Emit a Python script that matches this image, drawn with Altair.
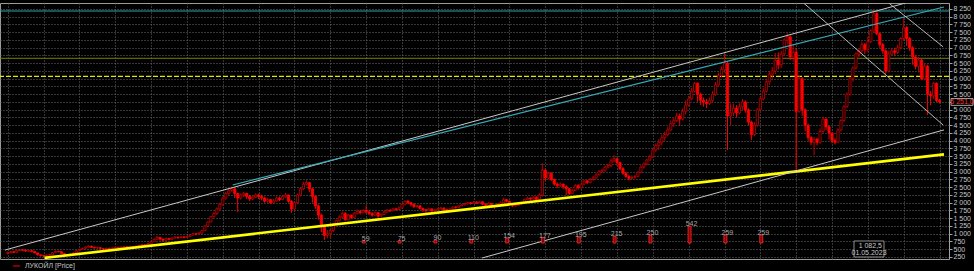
import altair as alt
import pandas as pd

# ---------------- data (monthly candles, month index 0 = Jan 2000) ----------------
first_open = 360
close = [
    390, 420, 400, 460, 480, 470, 440, 450, 430, 380, 320, 300,          # 2000
    280, 310, 330, 390, 430, 420, 360, 330, 310, 340, 380, 450,          # 2001
    490, 530, 570, 600, 560, 540, 550, 520, 510, 530, 520, 540,          # 2002
    560, 550, 570, 580, 560, 590, 570, 600, 620, 650, 630, 670,          # 2003
    740, 820, 880, 830, 790, 850, 820, 860, 890, 870, 900, 880,          # 2004
    910, 960, 1000, 990, 1020, 1100, 1250, 1380, 1550, 1650, 1800, 1950, # 2005
    2150, 2300, 2400, 2450, 2300, 2150, 2250, 2300, 2200, 2120, 2180, 2250,  # 2006
    2200, 2150, 2050, 2100, 2000, 2060, 2150, 2100, 2200, 2250, 2050, 1800,  # 2007
    2000, 2250, 2450, 2600, 2650, 2450, 2200, 1900, 1600, 1250, 950, 1000,   # 2008
    1100, 1300, 1420, 1540, 1650, 1450, 1600, 1520, 1650, 1720, 1680, 1750,  # 2009
    1700, 1650, 1600, 1680, 1570, 1620, 1700, 1760, 1740, 1800, 1780, 1830,  # 2010
    1950, 2050, 2000, 1950, 1880, 1900, 1820, 1780, 1760, 1800, 1740, 1770,  # 2011
    1800, 1830, 1780, 1720, 1800, 1860, 1850, 1900, 1930, 1960, 2000, 1980,  # 2012
    2020, 2000, 2030, 1950, 1920, 1980, 1900, 1880, 1950, 2000, 2100, 2050,  # 2013
    1950, 1900, 1920, 1960, 2000, 2100, 2150, 2120, 2180, 2100, 2250, 3050,  # 2014
    2800, 2950, 2750, 2600, 2550, 2600, 2520, 2450, 2300, 2400, 2550, 2480,  # 2015
    2600, 2700, 2650, 2750, 2800, 2900, 3000, 3050, 3150, 3200, 3350, 3420,  # 2016
    3300, 3100, 2950, 2850, 2780, 2820, 2850, 2980, 3150, 3250, 3380, 3480,  # 2017
    3700, 3850, 3950, 4100, 4200, 4350, 4550, 4650, 4800, 4700, 4950, 5150,  # 2018
    5350, 5600, 5850, 5500, 5300, 5250, 5200, 5300, 5500, 5800, 6100, 6300,  # 2019
    6500, 4800, 4900, 5050, 4900, 5100, 5250, 5000, 4600, 4200, 4500, 5000,  # 2020
    5350, 5600, 5900, 6150, 6250, 6600, 6450, 6800, 7250, 7350, 6700, 6850,  # 2021
    4950, 6000, 5000, 4500, 4100, 3950, 4050, 3950, 4300, 4700, 4450, 4250,  # 2022
    4000, 3950, 4350, 4650, 5100, 5500, 6000, 6350, 6800, 6900, 7100, 6950,  # 2023
    7200, 7550, 8100, 7450, 7100, 6900, 6250, 6800, 6900, 6850, 7000, 7300,  # 2024
    7650, 7300, 7000, 6700, 6400, 6600, 6000, 6400, 5500, 5450, 5850, 5300,  # 2025
    5251,                                                                     # 2026
]
high = [
    430, 450, 440, 490, 510, 500, 480, 470, 460, 440, 390, 330,
    310, 330, 350, 410, 460, 450, 430, 370, 340, 360, 400, 470,
    500, 550, 590, 630, 610, 580, 570, 560, 540, 550, 550, 560,
    580, 580, 590, 600, 600, 610, 600, 620, 650, 680, 670, 700,
    760, 860, 935, 900, 840, 870, 860, 880, 920, 910, 930, 910,
    930, 980, 1030, 1020, 1060, 1120, 1280, 1400, 1580, 1700, 1850, 2000,
    2200, 2350, 2450, 2520, 2480, 2320, 2300, 2350, 2320, 2250, 2230, 2300,
    2300, 2260, 2200, 2150, 2120, 2120, 2200, 2200, 2250, 2320, 2260, 2080,
    2050, 2300, 2500, 2680, 2720, 2660, 2460, 2250, 1950, 1650, 1300, 1120,
    1150, 1350, 1460, 1600, 1720, 1700, 1640, 1620, 1700, 1780, 1760, 1800,
    1900, 1760, 1700, 1720, 1700, 1660, 1740, 1800, 1790, 1840, 1830, 1880,
    1980, 2080, 2080, 2030, 1980, 1930, 1920, 1840, 1800, 1840, 1820, 1800,
    1840, 1870, 1850, 1800, 1820, 1880, 1890, 1920, 1960, 1990, 2030, 2020,
    2060, 2050, 2060, 2040, 1980, 2010, 1990, 1930, 1980, 2040, 2150, 2120,
    2060, 1980, 1960, 2000, 2040, 2130, 2200, 2180, 2220, 2200, 2310, 3280,
    3100, 3000, 2980, 2780, 2650, 2660, 2620, 2560, 2480, 2450, 2600, 2600,
    2650, 2740, 2740, 2800, 2860, 2950, 3060, 3100, 3200, 3260, 3420, 3540,
    3450, 3320, 3150, 3000, 2900, 2880, 2900, 3020, 3200, 3300, 3420, 3550,
    3780, 3920, 4050, 4200, 4300, 4450, 4650, 4750, 4900, 4880, 5050, 5300,
    5450, 5700, 5900, 5880, 5550, 5400, 5350, 5400, 5600, 5900, 6200, 6400,
    6830, 6550, 5200, 5200, 5150, 5200, 5350, 5300, 5050, 4650, 4600, 5050,
    5450, 5700, 6000, 6250, 6380, 6830, 6850, 6900, 7300, 7480, 7400, 7100,
    7000, 6100, 6050, 5050, 4550, 4150, 4120, 4100, 4400, 4780, 4720, 4480,
    4100, 4080, 4400, 4700, 5150, 5560, 6050, 6400, 6850, 6980, 7200, 7150,
    7350, 7600, 8220, 8150, 7480, 7150, 6950, 6900, 7000, 7000, 7100, 7350,
    7960, 7700, 7350, 7050, 6750, 6700, 6650, 6500, 6450, 5600, 5900, 5880,
    5350,
]
low = [
    330, 370, 380, 390, 440, 440, 420, 420, 400, 370, 300, 260,
    250, 270, 300, 320, 380, 400, 350, 310, 290, 300, 330, 370,
    440, 480, 520, 560, 540, 520, 510, 490, 480, 500, 500, 510,
    520, 520, 540, 550, 540, 550, 550, 560, 590, 610, 600, 620,
    660, 730, 800, 780, 740, 780, 790, 810, 850, 840, 860, 850,
    870, 900, 950, 950, 980, 1000, 1090, 1230, 1360, 1520, 1600, 1760,
    1900, 2100, 2250, 2350, 2150, 1700, 2100, 2180, 2120, 2050, 2080, 2150,
    2120, 2080, 2000, 2000, 1950, 1980, 2030, 2050, 2080, 2150, 2000, 1680,
    1750, 1950, 2200, 2400, 2550, 2350, 2000, 1800, 1450, 1050, 800, 850,
    860, 1050, 1280, 1400, 1500, 1420, 1440, 1480, 1500, 1620, 1620, 1660,
    1650, 1600, 1550, 1580, 1500, 1540, 1610, 1680, 1700, 1720, 1740, 1760,
    1820, 1920, 1950, 1880, 1830, 1840, 1780, 1700, 1680, 1730, 1700, 1720,
    1750, 1780, 1700, 1680, 1700, 1780, 1810, 1840, 1880, 1910, 1950, 1940,
    1970, 1960, 1980, 1920, 1880, 1900, 1850, 1800, 1870, 1940, 1990, 2010,
    1900, 1860, 1870, 1900, 1950, 1990, 2080, 2060, 2100, 2050, 2080, 2200,
    2700, 2750, 2700, 2550, 2480, 2500, 2450, 2250, 2250, 2280, 2380, 2420,
    2450, 2580, 2600, 2630, 2700, 2780, 2880, 2960, 3000, 3100, 3150, 3300,
    3200, 3050, 2900, 2800, 2720, 2760, 2780, 2820, 2950, 3100, 3200, 3350,
    3450, 3640, 3700, 3850, 4000, 4150, 4300, 4450, 4600, 4500, 4650, 4850,
    5100, 5300, 5550, 5250, 5150, 5100, 5050, 5150, 5250, 5450, 5750, 6050,
    6200, 3700, 4500, 4800, 4750, 4850, 5000, 4900, 4500, 4020, 4150, 4450,
    4950, 5300, 5550, 5800, 6000, 6150, 6300, 6350, 6750, 7100, 6600, 6550,
    3060, 4900, 4800, 4300, 4000, 3850, 3540, 3850, 3900, 4250, 4350, 4050,
    3920, 3880, 3950, 4300, 4600, 5050, 5450, 5900, 6300, 6700, 6800, 6800,
    6850, 7150, 7500, 7400, 7000, 6800, 6150, 6200, 6750, 6750, 6800, 6950,
    7250, 7050, 6900, 6450, 6300, 6200, 5950, 5950, 4830, 5150, 5350, 5250,
    5200,
]

# dividends (rub per share) and month index where they are drawn
div_values = [59, 75, 90, 110, 154, 177, 195, 215, 250, 542, 259, 259]
div_month = [119.2, 131.2, 143.2, 155.2, 167.2, 179.2, 191.2, 203.2, 215.2, 228.3, 240.3, 252.3]
div_base = 700

# trend segments: (month1, price1) -> (month2, price2)
seg_names = ["support", "lower_channel", "upper_channel", "cyan_channel", "down_a", "down_b"]
seg_m1 = [12.3, 158.8, -0.93, 75.3, 266.5, 295.0]
seg_p1 = [220, 217, 475, 2572, 8443, 8443]
seg_m2 = [313.5, 313.5, 300.6, 313.5, 313.2, 313.2]
seg_p2 = [3560, 4350, 8443, 8315, 4508, 7030]

# horizontal levels
level_names = ["cyan_level", "olive_level", "yellow_level"]
level_values = [8185, 6660, 6078]

last_price = 5251
last_price_label = "5 251,0"
hidden_tick = 5250          # axis label covered by the last-price box
cursor_value = "1 082,5"
cursor_date = "01.05.2023"
legend_label = "ЛУКОЙЛ [Price]"

y_ticks = list(range(250, 8251, 250))
x_grid = list(range(0, 313, 12))

# ---------------- build tables ----------------
opens = [first_open] + close[:-1]
candles = pd.DataFrame({
    "m": list(range(len(close))),
    "open": opens,
    "close": close,
    "high": high,
    "low": low,
})
candles["up"] = candles["close"] >= candles["open"]

divs = pd.DataFrame({"m": div_month, "base": [div_base] * len(div_values),
                     "top": [div_base + v for v in div_values],
                     "label": [str(v) for v in div_values]})
segs = pd.DataFrame({"name": seg_names, "m": seg_m1, "p": seg_p1, "m2": seg_m2, "p2": seg_p2})
levels = pd.DataFrame({"name": level_names, "p": level_values})

# ---------------- scales / axes ----------------
GRID = "#6a6a6a"
xscale = alt.Scale(domain=[-0.93, 313.5], nice=False, zero=False)
yscale = alt.Scale(domain=[185, 8443.5], nice=False, zero=False)
xaxis = alt.Axis(values=x_grid, grid=True, gridColor=GRID, gridDash=[1, 2], gridWidth=1,
                 labels=False, ticks=False, domain=False, title=None)
yaxis = alt.Axis(orient="right", values=y_ticks, grid=True, gridColor=GRID, gridDash=[1, 2],
                 gridWidth=1,
                 labelExpr=f"datum.value == {hidden_tick} ? '' : replace(format(datum.value, ','), ',', ' ')",
                 labelColor="#c8c8c8", labelFont="Liberation Sans", labelFontSize=7,
                 labelPadding=1, labelOverlap=False, labelFlush=False,
                 ticks=True, tickColor="#a0a0a0", tickSize=3,
                 domain=True, domainColor="#a0a0a0", title=None)


def X(f):
    return alt.X(f, type="quantitative", scale=xscale, axis=xaxis)


def Y(f):
    return alt.Y(f, type="quantitative", scale=yscale, axis=yaxis)


layers = []

# horizontal levels
lvl_style = {"cyan_level": ("#2fa3ad", 1, None),
             "olive_level": ("#7d7d00", 1, None),
             "yellow_level": ("#e6e600", 1.2, [5, 2])}
for nm, (col, w, dash) in lvl_style.items():
    kw = dict(color=col, strokeWidth=w)
    if dash:
        kw["strokeDash"] = dash
    layers.append(alt.Chart(levels[levels.name == nm]).mark_rule(**kw).encode(y=Y("p")))

# candle wicks and bodies
base = alt.Chart(candles)
layers.append(base.mark_rule(strokeWidth=1).encode(
    x=X("m"), y=Y("low"), y2="high",
    color=alt.condition("datum.up", alt.value("#c00000"), alt.value("#ff0000"))))
layers.append(base.mark_bar(size=2.2, strokeWidth=0.8, orient="vertical").encode(
    x=X("m"), y=Y("open"), y2="close",
    fill=alt.condition("datum.up", alt.value("#000000"), alt.value("#ff0000")),
    stroke=alt.condition("datum.up", alt.value("#c80000"), alt.value("#ff0000"))))

# trend segments
seg_style = {"support": ("#ffff00", 2.6),
             "lower_channel": ("#c8c8c8", 1),
             "upper_channel": ("#c8c8c8", 1),
             "cyan_channel": ("#36aab8", 1.2),
             "down_a": ("#b8b8b8", 1),
             "down_b": ("#b8b8b8", 1)}
for nm, (col, w) in seg_style.items():
    layers.append(alt.Chart(segs[segs.name == nm]).mark_rule(color=col, strokeWidth=w, clip=True).encode(
        x=X("m"), y=Y("p"), x2="m2", y2="p2"))

# dividends
dchart = alt.Chart(divs)
layers.append(dchart.mark_bar(size=3, fill="#8a0000", stroke="#ff2a2a", strokeWidth=0.8,
                              orient="vertical").encode(x=X("m"), y=Y("base"), y2="top"))
layers.append(dchart.mark_text(fontSize=7, font="Liberation Sans", color="#a8a8a8",
                               baseline="bottom", dx=2, dy=1).encode(
    x=X("m"), y=Y("top"), text="label"))

# last price label box at right axis
lp = pd.DataFrame({"p": [last_price], "p_hi": [last_price + 110], "p_lo": [last_price - 110],
                   "t": [last_price_label]})
layers.append(alt.Chart(lp).mark_rect(fill="#000000", stroke="#a0a0a0", strokeWidth=1).encode(
    x=alt.value(951), x2=alt.value(973), y=Y("p_hi"), y2="p_lo"))
layers.append(alt.Chart(lp).mark_text(fontSize=7, font="Liberation Sans", color="#ff3030",
                                      align="center", baseline="middle").encode(
    x=alt.value(962), y=Y("p"), text="t"))

# cursor readout box
cb = pd.DataFrame({"t1": [cursor_value], "t2": [cursor_date]})
layers.append(alt.Chart(cb).mark_rect(fill="#000000", stroke="#909090", strokeWidth=1).encode(
    x=alt.value(854), x2=alt.value(884), y=alt.value(238), y2=alt.value(254)))
layers.append(alt.Chart(cb).mark_text(fontSize=7, font="Liberation Sans", color="#c8c8c8",
                                      align="right", baseline="middle").encode(
    x=alt.value(882), y=alt.value(242.5), text="t1"))
layers.append(alt.Chart(cb).mark_text(fontSize=7, font="Liberation Sans", color="#c8c8c8",
                                      align="center", baseline="middle").encode(
    x=alt.value(869), y=alt.value(250), text="t2"))

# legend
lg = pd.DataFrame({"t": [legend_label]})
layers.append(alt.Chart(lg).mark_rule(color="#ff0000", strokeWidth=1).encode(
    x=alt.value(13), x2=alt.value(20), y=alt.value(263)))
layers.append(alt.Chart(lg).mark_text(fontSize=7, font="Liberation Sans", color="#c8c8c8",
                                      align="left", baseline="middle").encode(
    x=alt.value(25), y=alt.value(263), text="t"))

chart = alt.layer(*layers).properties(
    width=949, height=256, background="#000000",
    padding={"left": 0, "top": 3, "right": 25, "bottom": 12},
    autosize=alt.AutoSizeParams(type="none"),
).configure_view(stroke="#9a9a9a", strokeWidth=1)

chart.save("out.html", embed_options={"renderer": "svg", "actions": False})
